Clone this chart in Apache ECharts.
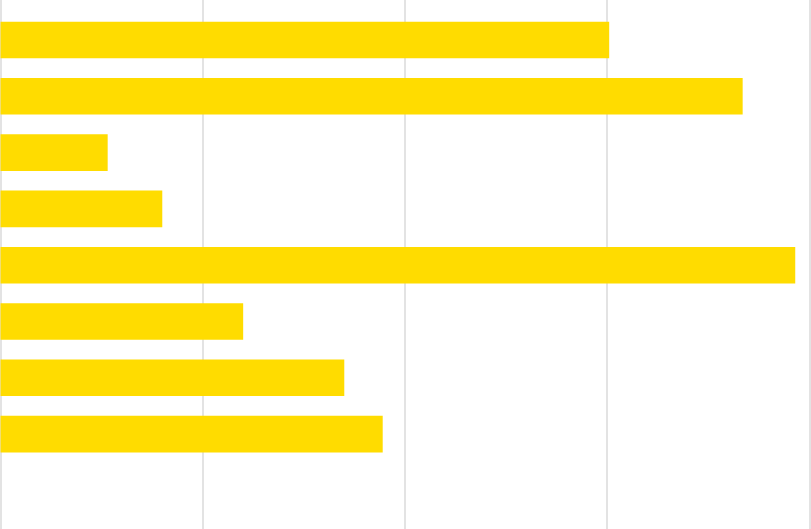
<!DOCTYPE html>
<html>
<head>
<meta charset="utf-8">
<script src="https://cdn.jsdelivr.net/npm/echarts@6/dist/echarts.min.js"></script>
<style>html,body{margin:0;padding:0;background:#fff;}#c{width:811px;height:529px;}</style>
</head>
<body>
<div id="c"></div>
<script>
const categories = ['A', 'B', 'C', 'D', 'E', 'F', 'G', 'H'];
const values = [30.1, 36.7, 5.3, 8.0, 39.3, 12.0, 17.0, 18.9];
const xTicks = [0, 10, 20, 30, 40];

const chart = echarts.init(document.getElementById('c'), null, {renderer: 'canvas'});
const xMin = xTicks[0], xMax = xTicks[xTicks.length - 1], xInt = xTicks[1] - xTicks[0];
chart.setOption({
  animation: false,
  backgroundColor: '#ffffff',
  grid: [
    {left: 0.5, right: 1.6, top: 0, bottom: 0, containLabel: false},
    {left: 0.5, right: 1.6, top: 11.85, height: 450.4, containLabel: false}
  ],
  xAxis: [
    {type: 'value', gridIndex: 0, min: xMin, max: xMax, interval: xInt,
     axisLine: {show: false}, axisTick: {show: false}, axisLabel: {show: false},
     splitLine: {show: true, lineStyle: {color: '#dadada', width: 1.5}}},
    {type: 'value', gridIndex: 1, min: xMin, max: xMax, interval: xInt,
     axisLine: {show: false}, axisTick: {show: false}, axisLabel: {show: false},
     splitLine: {show: false}}
  ],
  yAxis: [
    {type: 'value', gridIndex: 0, show: false, splitLine: {show: false}},
    {type: 'category', gridIndex: 1, data: categories, inverse: true,
     axisLine: {show: false}, axisTick: {show: false}, axisLabel: {show: false},
     splitLine: {show: false}}
  ],
  series: [{
    type: 'bar',
    xAxisIndex: 1,
    yAxisIndex: 1,
    data: values,
    barCategoryGap: '35%',
    itemStyle: {color: '#FFDC00'}
  }]
});
</script>
</body>
</html>
